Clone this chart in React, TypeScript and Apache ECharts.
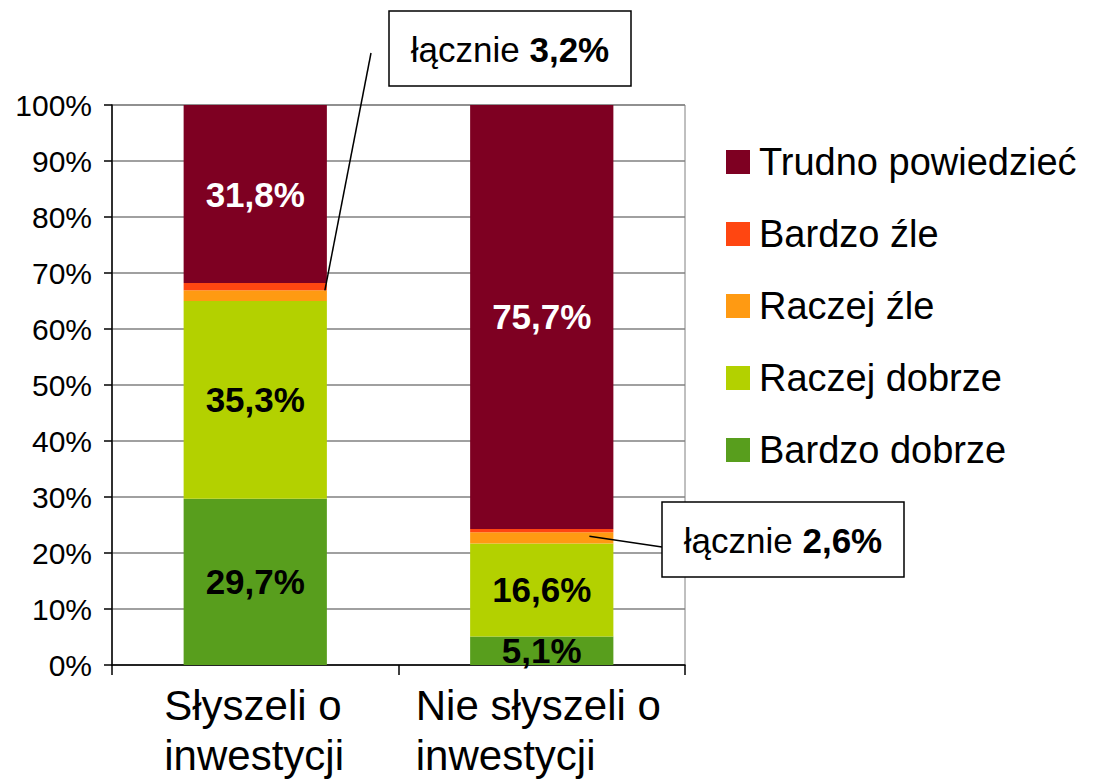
import React, { useEffect, useRef } from "react";
import * as echarts from "echarts";

const categories = ["Słyszeli o\ninwestycji", "Nie słyszeli o\ninwestycji"];
const bardzoDobrze = [29.7, 5.1];
const raczejDobrze = [35.3, 16.6];
const raczejZle = [1.9, 2.0];
const bardzoZle = [1.3, 0.6];
const trudno = [31.8, 75.7];
const yTicks = [0, 10, 20, 30, 40, 50, 60, 70, 80, 90, 100];
const calloutTexts = ["3,2%", "2,6%"];

const FONT = "'Liberation Sans', Arial, Helvetica, sans-serif";

export default function App() {
  const ref = useRef<HTMLDivElement>(null);
  useEffect(() => {
    if (!ref.current) return;
    const chart = echarts.init(ref.current, null, { renderer: "svg" });
    const fmt = (p: any) => Number(p.value).toFixed(1).replace(".", ",") + "%";
    const bigLabel = (color: string) => ({
      show: true,
      position: "inside",
      formatter: fmt,
      color,
      fontSize: 35,
      fontWeight: "bold",
      fontFamily: FONT,
    });
    const mk = (name: string, data: number[], color: string, label: any) => ({
      name,
      type: "bar",
      stack: "total",
      data,
      barWidth: "50%",
      itemStyle: { color },
      label,
    });
    chart.setOption({
      animation: false,
      textStyle: { fontFamily: FONT },
      grid: {
        left: 112,
        right: 414,
        top: 105,
        bottom: 116,
        show: true,
        borderColor: "#808080",
        borderWidth: 1,
      },
      legend: {
        orient: "vertical",
        left: 721,
        top: 137,
        itemWidth: 24,
        itemHeight: 24,
        itemGap: 32,
        icon: "rect",
        data: ["Trudno powiedzieć", "Bardzo źle", "Raczej źle", "Raczej dobrze", "Bardzo dobrze"],
        textStyle: { fontSize: 38, color: "#000", fontFamily: FONT, lineHeight: 40, padding: [0, 0, 0, 4] },
      },
      xAxis: {
        type: "category",
        data: categories,
        axisLine: { lineStyle: { color: "#000", width: 1.5 } },
        axisTick: { show: true, length: 10, lineStyle: { color: "#000", width: 1.5 } },
        axisLabel: {
          margin: 15,
          formatter: (v: string, i: number) => {
            const s = i === 0 ? "a" : "b";
            return v.split("\n").map((l) => `{${s}|${l}}`).join("\n");
          },
          rich: {
            a: { fontSize: 42, lineHeight: 50, color: "#000", width: 182, align: "left", fontFamily: FONT },
            b: { fontSize: 42, lineHeight: 50, color: "#000", width: 252, align: "left", fontFamily: FONT },
          },
        },
      },
      yAxis: {
        type: "value",
        min: 0,
        max: 100,
        interval: 10,
        axisLine: { show: true, lineStyle: { color: "#000", width: 1.5 } },
        axisTick: { show: true, length: 8, lineStyle: { color: "#000", width: 1.5 } },
        axisLabel: {
          formatter: (v: number) => (yTicks.includes(v) ? v + "%" : ""),
          fontSize: 30,
          color: "#000",
          margin: 20,
          fontFamily: FONT,
        },
        splitLine: { show: true, lineStyle: { color: "#808080", width: 1.5 } },
      },
      series: [
        mk("Bardzo dobrze", bardzoDobrze, "#589E1D", bigLabel("#000")),
        mk("Raczej dobrze", raczejDobrze, "#B3D100", bigLabel("#000")),
        mk("Raczej źle", raczejZle, "#FF9A12", { show: false }),
        mk("Bardzo źle", bardzoZle, "#FF4611", { show: false }),
        mk("Trudno powiedzieć", trudno, "#7E0022", bigLabel("#fff")),
      ],
    });

    // callout anchors computed from the chart's own scales
    const x0 = chart.convertToPixel({ xAxisIndex: 0 }, 0) as number;
    const x1 = chart.convertToPixel({ xAxisIndex: 0 }, 1) as number;
    const band = x1 - x0;
    const half = band * 0.25;
    const top1 = bardzoDobrze[0] + raczejDobrze[0] + raczejZle[0];
    const mid2 = bardzoDobrze[1] + raczejDobrze[1] + raczejZle[1] * 0.65;
    const a1y = chart.convertToPixel({ yAxisIndex: 0 }, top1) as number;
    const a2y = chart.convertToPixel({ yAxisIndex: 0 }, mid2) as number;
    const a1x = x0 + half - 2;
    const a2x = x1 + half - 24;

    const box = (x: number, y: number, val: string) => [
      {
        type: "rect",
        shape: { x, y, width: 242, height: 75 },
        style: { fill: "#fff", stroke: "#000", lineWidth: 1.5 },
        z: 100,
      },
      {
        type: "text",
        x: x + 121,
        y: y + 38,
        z: 101,
        style: {
          text: `{n|łącznie }{b|${val}}`,
          align: "center",
          verticalAlign: "middle",
          rich: {
            n: { fontSize: 35, fontFamily: FONT, fill: "#000" },
            b: { fontSize: 35, fontFamily: FONT, fontWeight: "bold", fill: "#000" },
          },
        },
      },
    ];

    chart.setOption({
      graphic: [
        {
          type: "line",
          shape: { x1: a1x, y1: a1y, x2: 371, y2: 53 },
          style: { stroke: "#000", lineWidth: 1.5 },
          z: 99,
        },
        {
          type: "line",
          shape: { x1: a2x, y1: a2y, x2: 662, y2: 547 },
          style: { stroke: "#000", lineWidth: 1.5 },
          z: 99,
        },
        ...box(389, 11, calloutTexts[0]),
        ...box(662, 502, calloutTexts[1]),
      ],
    });
    return () => chart.dispose();
  }, []);
  return (
    <div
      ref={ref}
      style={{ position: "fixed", left: 0, top: 0, width: 1099, height: 781, background: "#fff" }}
    />
  );
}
